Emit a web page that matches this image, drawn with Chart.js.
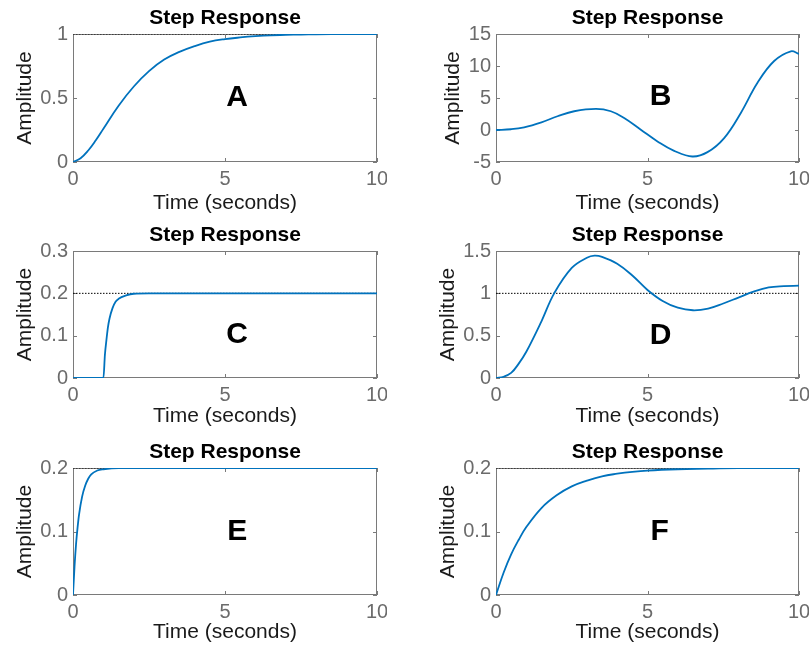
<!DOCTYPE html>
<html>
<head>
<meta charset="utf-8">
<title>Step Response</title>
<script src="https://cdn.jsdelivr.net/npm/chart.js@4.4.1/dist/chart.umd.min.js"></script>
<style>
  html, body { margin: 0; padding: 0; background: #fff; overflow: hidden; }
  body { width: 810px; height: 648px; position: relative; }
  canvas { position: absolute; }
</style>
</head>
<body>
<canvas id="chartA"></canvas>
<canvas id="chartB"></canvas>
<canvas id="chartC"></canvas>
<canvas id="chartD"></canvas>
<canvas id="chartE"></canvas>
<canvas id="chartF"></canvas>
<script>
const timeA = [0, 0.25, 0.5, 0.75, 1, 1.5, 2, 2.5, 3, 3.5, 4, 4.5, 5, 5.5, 6, 6.5, 7, 7.5, 8, 9, 10];
const ampA  = [0, 0.03, 0.09, 0.17, 0.26, 0.44, 0.59, 0.71, 0.80, 0.86, 0.905, 0.94, 0.96, 0.973, 0.983, 0.99, 0.993, 0.996, 0.998, 1, 1];

const timeB = [0, 0.5, 0.93, 1.5, 2.03, 2.58, 3.3, 3.79, 4.23, 4.78, 5.33, 5.88, 6.48, 6.98, 7.53, 8.08, 8.63, 9.18, 9.73, 10];
const ampB  = [0, 0.12, 0.42, 1.2, 2.15, 2.93, 3.3, 2.93, 1.88, 0.05, -1.78, -3.25, -4.14, -3.46, -1.26, 2.67, 7.38, 10.78, 12.3, 11.9];

const timeC = [0, 0.5, 1, 1.05, 1.1, 1.15, 1.2, 1.3, 1.4, 1.5, 1.75, 2, 2.5, 3, 5, 10];
const ampC  = [0, 0, 0, 0.055, 0.09, 0.12, 0.14, 0.165, 0.18, 0.187, 0.195, 0.199, 0.2, 0.2, 0.2, 0.2];

const timeD = [0, 0.25, 0.5, 0.75, 1, 1.5, 1.92, 2.5, 3, 3.25, 3.5, 4, 4.5, 5, 5.5, 6, 6.5, 7, 7.5, 8, 8.5, 9, 9.5, 10];
const ampD  = [0, 0.015, 0.06, 0.17, 0.31, 0.67, 1.0, 1.30, 1.42, 1.445, 1.43, 1.35, 1.21, 1.04, 0.91, 0.83, 0.80, 0.82, 0.88, 0.95, 1.02, 1.07, 1.085, 1.09];

const timeE = [0, 0.05, 0.1, 0.15, 0.2, 0.3, 0.4, 0.5, 0.6, 0.8, 1, 1.5, 2, 5, 10];
const ampE  = [0, 0.045, 0.08, 0.106, 0.127, 0.155, 0.172, 0.183, 0.19, 0.196, 0.198, 0.2, 0.2, 0.2, 0.2];

const timeF = [0, 0.25, 0.5, 0.75, 1, 1.5, 2, 2.5, 3, 3.5, 4, 4.5, 5, 6, 7, 8, 10];
const ampF  = [0, 0.035, 0.064, 0.087, 0.107, 0.137, 0.157, 0.171, 0.180, 0.187, 0.191, 0.194, 0.196, 0.198, 0.199, 0.2, 0.2];

// steady-state values (dotted line); B is unstable, so none
const finalValues = [1, null, 0.2, 1, 0.2, 0.2];

// tick labels
const xTicks = [0, 5, 10];
const yTicksA = [0, 0.5, 1];
const yTicksB = [-5, 0, 5, 10, 15];
const yTicksC = [0, 0.1, 0.2, 0.3];
const yTicksD = [0, 0.5, 1, 1.5];
const yTicksE = [0, 0.1, 0.2];
const yTicksF = [0, 0.1, 0.2];

const letters = ['A', 'B', 'C', 'D', 'E', 'F'];

// layout of each panel: plot box [left, top, right, bottom] in page pixels
const panels = [
  { id: 'chartA', time: timeA, amp: ampA, yTicks: yTicksA, box: [73, 34, 377, 162], letterAt: [0.54, 0.5], yTitlePad: 13, xTitlePad: -2, mode: 'default' },
  { id: 'chartB', time: timeB, amp: ampB, yTicks: yTicksB, box: [496, 34, 799, 162], letterAt: [0.543, 0.49], yTitlePad: 18, xTitlePad: -2, mode: 'default' },
  { id: 'chartC', time: timeC, amp: ampC, yTicks: yTicksC, box: [73, 251, 377, 378], letterAt: [0.54, 0.66], yTitlePad: 13, xTitlePad: 1, mode: 'monotone' },
  { id: 'chartD', time: timeD, amp: ampD, yTicks: yTicksD, box: [496, 251, 799, 378], letterAt: [0.543, 0.667], yTitlePad: 12.5, xTitlePad: 1, mode: 'default' },
  { id: 'chartE', time: timeE, amp: ampE, yTicks: yTicksE, box: [73, 468, 377, 595], letterAt: [0.54, 0.5], yTitlePad: 13, xTitlePad: 2, mode: 'monotone' },
  { id: 'chartF', time: timeF, amp: ampF, yTicks: yTicksF, box: [496, 468, 799, 595], letterAt: [0.54, 0.5], yTitlePad: 12.5, xTitlePad: 2, mode: 'default' }
];

const FONT = "'Liberation Sans', Arial, Helvetica, sans-serif";
Chart.defaults.font.family = FONT;

const AXIS_W = 73, TOP_H = 34, X_H = 52, RIGHT_PAD = 10;
const frameColor = '#7a7a7a';

// MATLAB-like box with inward tick marks, plus the big panel letter
const framePlugin = {
  id: 'frame',
  beforeDatasetsDraw(chart) {
    const { ctx, chartArea: a, scales: { x, y } } = chart;
    ctx.save();
    ctx.strokeStyle = frameColor;
    ctx.lineWidth = 1;
    ctx.strokeRect(a.left + 0.5, a.top + 0.5, a.width - 1, a.height - 1);
    ctx.beginPath();
    x.ticks.forEach(t => {
      const px = Math.round(x.getPixelForValue(t.value)) + 0.5;
      ctx.moveTo(px, a.bottom); ctx.lineTo(px, a.bottom - 4);
      ctx.moveTo(px, a.top); ctx.lineTo(px, a.top + 4);
    });
    y.ticks.forEach(t => {
      const py = Math.round(y.getPixelForValue(t.value)) + 0.5;
      ctx.moveTo(a.left, py); ctx.lineTo(a.left + 4, py);
      ctx.moveTo(a.right, py); ctx.lineTo(a.right - 4, py);
    });
    ctx.stroke();
    ctx.restore();
  },
  afterDatasetsDraw(chart, args, opts) {
    const { ctx, chartArea: a } = chart;
    ctx.save();
    ctx.fillStyle = '#000';
    ctx.font = 'bold 30px ' + FONT;
    ctx.textAlign = 'center';
    ctx.textBaseline = 'middle';
    ctx.fillText(opts.letter, a.left + a.width * opts.at[0], a.top + a.height * opts.at[1]);
    ctx.restore();
  }
};

const fmt = v => String(+(+v).toFixed(2));

panels.forEach((p, i) => {
  const canvas = document.getElementById(p.id);
  const [L, T, R, B] = p.box;
  const w = (R - L) + AXIS_W + RIGHT_PAD;
  const h = (B - T) + TOP_H + X_H;
  canvas.width = w;
  canvas.height = h;
  canvas.style.width = w + 'px';
  canvas.style.height = h + 'px';
  canvas.style.left = (L - AXIS_W) + 'px';
  canvas.style.top = (T - TOP_H) + 'px';

  const datasets = [{
    data: p.time.map((t, k) => ({ x: t, y: p.amp[k] })),
    borderColor: '#0072BD',
    borderWidth: 1.8,
    pointRadius: 0,
    cubicInterpolationMode: p.mode,
    tension: 0.4,
    fill: false
  }];
  if (finalValues[i] !== null) {
    datasets.push({
      data: [{ x: xTicks[0], y: finalValues[i] }, { x: xTicks[xTicks.length - 1], y: finalValues[i] }],
      borderColor: '#000',
      borderWidth: 1,
      borderDash: [1.5, 1.5],
      pointRadius: 0,
      fill: false
    });
  }

  new Chart(canvas, {
    type: 'line',
    data: { datasets },
    plugins: [framePlugin],
    options: {
      responsive: false,
      animation: false,
      events: [],
      layout: { padding: { left: 0, top: 0, right: RIGHT_PAD, bottom: 0 } },
      plugins: {
        legend: { display: false },
        tooltip: { enabled: false },
        title: {
          display: true,
          text: 'Step Response',
          fullSize: false,
          color: '#000',
          font: { size: 21, weight: 'bold', lineHeight: 1.2 },
          padding: { top: 6, bottom: 2.8 }
        },
        frame: { letter: letters[i], at: p.letterAt }
      },
      scales: {
        x: {
          type: 'linear',
          min: xTicks[0],
          max: xTicks[xTicks.length - 1],
          afterBuildTicks: s => { s.ticks = xTicks.map(v => ({ value: v })); },
          afterFit: s => { s.height = X_H; s.paddingLeft = 0; s.paddingRight = 0; },
          grid: { display: false, drawTicks: false },
          border: { display: false },
          ticks: { color: '#6b6b6b', font: { size: 20 }, padding: 5, maxRotation: 0, callback: fmt },
          title: { display: true, text: 'Time (seconds)', color: '#1a1a1a', font: { size: 21 }, padding: { top: 0, bottom: p.xTitlePad } }
        },
        y: {
          min: p.yTicks[0],
          max: p.yTicks[p.yTicks.length - 1],
          afterBuildTicks: s => { s.ticks = p.yTicks.map(v => ({ value: v })); },
          afterFit: s => { s.width = AXIS_W; s.paddingTop = 0; s.paddingBottom = 0; },
          grid: { display: false, drawTicks: false },
          border: { display: false },
          ticks: { color: '#6b6b6b', font: { size: 20 }, padding: 5, callback: fmt },
          title: { display: true, text: 'Amplitude', color: '#1a1a1a', font: { size: 21 }, padding: { top: p.yTitlePad, bottom: 0 } }
        }
      }
    }
  });
});
</script>
</body>
</html>
